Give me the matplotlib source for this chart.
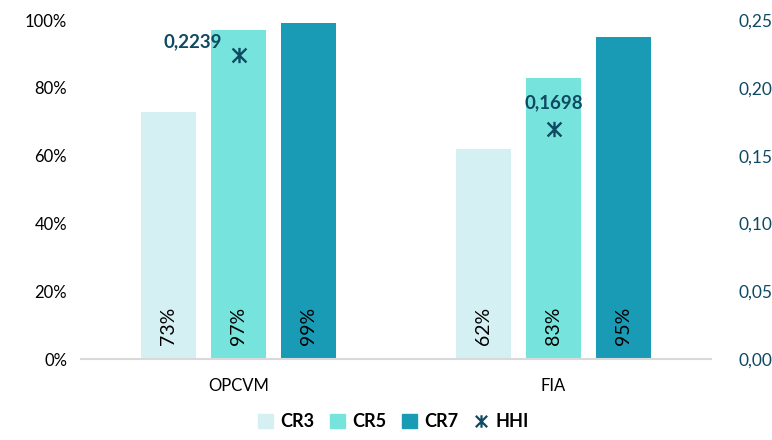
import numpy as np
import matplotlib.pyplot as plt
from matplotlib.path import Path
from matplotlib.patches import Patch
from matplotlib.lines import Line2D
from matplotlib.ticker import FuncFormatter

plt.rcParams['font.family'] = ['Lato', 'DejaVu Sans']

# données
categories = ['OPCVM', 'FIA']
cr3 = [73, 62]
cr5 = [97, 83]
cr7 = [99, 95]
hhi = [0.2239, 0.1698]

c_cr3 = '#d5f0f3'
c_cr5 = '#76e4dc'
c_cr7 = '#1a9bb5'
c_hhi = '#0f4a63'

# marqueur "étoile" façon Excel (X + trait vertical)
star = Path([(-1, -1), (1, 1), (-1, 1), (1, -1), (0, -1.1), (0, 1.1)],
            [Path.MOVETO, Path.LINETO, Path.MOVETO, Path.LINETO, Path.MOVETO, Path.LINETO])

fig = plt.figure(figsize=(7.72, 4.40), dpi=100)
ax = fig.add_axes([0.105, 0.184, 0.816, 0.7705])
ax2 = ax.twinx()

x = np.arange(len(categories))
w = 0.175
step = 0.222
series = [(cr3, c_cr3, 'CR3'), (cr5, c_cr5, 'CR5'), (cr7, c_cr7, 'CR7')]
for k, (vals, col, lab) in enumerate(series):
    pos = x + (k - 1) * step
    ax.bar(pos, vals, width=w, color=col, label=lab, zorder=2)
    for p, v in zip(pos, vals):
        ax.text(p, 4, str(v) + '%', rotation=90, ha='center', va='bottom',
                fontsize=14, color='black', zorder=3)

ax.set_xlim(-0.5, 1.5)
ax.set_ylim(0, 100)
ax.set_yticks(np.arange(0, 101, 20))
ax.yaxis.set_major_formatter(FuncFormatter(lambda v, p: '%d%%' % v))
ax.set_xticks(x)
ax.set_xticklabels(categories, fontsize=12)
ax.tick_params(axis='both', length=0, labelsize=12)
ax.tick_params(axis='x', pad=14)
ax.tick_params(axis='y', pad=10)
for s in ['top', 'right', 'left']:
    ax.spines[s].set_visible(False)
ax.spines['bottom'].set_color('#d9d9d9')
ax.spines['bottom'].set_linewidth(1.5)

# HHI sur axe secondaire
ax2.plot(x, hhi, linestyle='none', marker=star, markersize=11, markeredgewidth=1.7,
         color=c_hhi, zorder=4)
ax2.set_ylim(0, 0.25)
ax2.set_yticks(np.arange(0, 0.251, 0.05))
ax2.yaxis.set_major_formatter(FuncFormatter(lambda v, p: ('%.2f' % v).replace('.', ',')))
ax2.tick_params(axis='y', length=0, labelsize=12.5, labelcolor=c_hhi, pad=20)
for s in ['top', 'right', 'left', 'bottom']:
    ax2.spines[s].set_visible(False)

ax2.annotate('0,2239', (x[0], hhi[0]), xytext=(-33, 10), textcoords='offset points',
             ha='center', va='center', fontsize=13.5, fontweight='bold', color=c_hhi)
ax2.annotate('0,1698', (x[1], hhi[1]), xytext=(0, 19), textcoords='offset points',
             ha='center', va='center', fontsize=13.5, fontweight='bold', color=c_hhi)

handles = [Patch(color=c_cr3), Patch(color=c_cr5), Patch(color=c_cr7),
           Line2D([], [], linestyle='none', marker=star, markersize=9,
                  markeredgewidth=1.6, color=c_hhi)]
fig.legend(handles, ['CR3', 'CR5', 'CR7', 'HHI'], loc='lower center',
           bbox_to_anchor=(0.51, -0.015), ncol=4, frameon=False, handlelength=0.8,
           handleheight=0.8, handletextpad=0.4, columnspacing=0.9,
           prop={'weight': 'bold', 'size': 13})

fig.savefig('out.png', dpi=100)
